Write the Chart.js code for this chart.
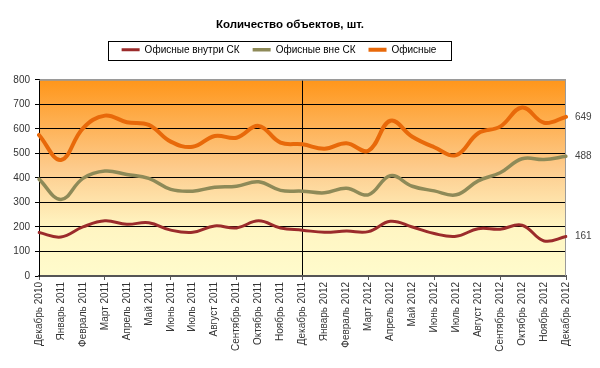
<!DOCTYPE html>
<html>
<head>
<meta charset="utf-8">
<script src="https://cdn.jsdelivr.net/npm/chart.js@4/dist/chart.umd.min.js"></script>
<style>
  body { margin: 0; background: #fff; }
  #wrap { width: 600px; height: 368px; }
</style>
</head>
<body>
<div id="wrap"><canvas id="objChart"></canvas></div>
<script>
// months, Dec 2010 .. Dec 2012
const months = ['Декабрь 2010', 'Январь 2011', 'Февраль 2011', 'Март 2011', 'Апрель 2011', 'Май 2011',
  'Июнь 2011', 'Июль 2011', 'Август 2011', 'Сентябрь 2011', 'Октябрь 2011', 'Ноябрь 2011',
  'Декабрь 2011', 'Январь 2012', 'Февраль 2012', 'Март 2012', 'Апрель 2012', 'Май 2012',
  'Июнь 2012', 'Июль 2012', 'Август 2012', 'Сентябрь 2012', 'Октябрь 2012', 'Ноябрь 2012', 'Декабрь 2012'];

const insideSK = [177, 159, 200, 225, 211, 217, 187, 178, 204, 196, 225, 196, 187,
  178, 183, 181, 223, 200, 173, 162, 193, 191, 207, 143, 161];
const outsideSK = [395, 312, 398, 428, 414, 398, 353, 346, 362, 366, 384, 349, 346,
  339, 358, 331, 409, 366, 347, 331, 388, 421, 478, 475, 488];
const offices = [575, 473, 602, 654, 627, 616, 548, 527, 571, 564, 612, 544, 537,
  519, 541, 511, 633, 568, 525, 493, 582, 609, 687, 625, 649];

const yTicks = [0, 100, 200, 300, 400, 500, 600, 700, 800];

// background gradient + frame
const areaBg = {
  id: 'areaBg',
  beforeDatasetsDraw(chart) {
    const { ctx, chartArea: a } = chart;
    const g = ctx.createLinearGradient(0, a.top, 0, a.bottom);
    g.addColorStop(0, '#FF961A');
    g.addColorStop(0.45, '#FDCB8C');
    g.addColorStop(0.75, '#FFF5C2');
    g.addColorStop(1, '#FFFBCC');
    ctx.save();
    ctx.globalCompositeOperation = 'destination-over';
    ctx.fillStyle = g;
    ctx.fillRect(a.left, a.top, a.right - a.left, a.bottom - a.top);
    ctx.restore();
    ctx.save();
    ctx.strokeStyle = '#9a9a9a';
    ctx.lineWidth = 1;
    ctx.beginPath();
    ctx.moveTo(a.left, a.top + 0.5);
    ctx.lineTo(a.right - 0.5, a.top + 0.5);
    ctx.lineTo(a.right - 0.5, a.bottom);
    ctx.stroke();
    ctx.restore();
  }
};

// legend a bit taller, title/legend nudged like in excel
const tweakLayout = {
  id: 'tweakLayout',
  beforeLayout(chart) {
    const lg = chart.legend;
    if (lg && !lg._patched) {
      const fit = lg.fit.bind(lg);
      lg.fit = function () { fit(); this.height += 15; };
      lg._patched = true;
    }
  },
  afterLayout(chart) {
    chart.titleBlock.left += 7;
    chart.titleBlock.right += 7;
    chart.legend.left -= 4;
    chart.legend.right -= 4;
  }
};

// last values at the right, legend frame
const extras = {
  id: 'extras',
  afterDraw(chart) {
    const { ctx, chartArea: a } = chart;
    ctx.save();
    ctx.font = '10px Arial';
    ctx.fillStyle = '#444';
    ctx.textBaseline = 'middle';
    chart.data.datasets.forEach((ds, i) => {
      const pts = chart.getDatasetMeta(i).data;
      const p = pts[pts.length - 1];
      ctx.fillText(String(ds.data[ds.data.length - 1]), a.right + 9, p.y);
    });
    const boxes = chart.legend.legendHitBoxes;
    if (boxes && boxes.length) {
      const l = Math.min(...boxes.map(b => b.left)) - 14;
      const r = Math.max(...boxes.map(b => b.left + b.width)) + 14;
      const t = boxes[0].top - 4;
      ctx.strokeStyle = '#000';
      ctx.lineWidth = 1;
      ctx.strokeRect(Math.round(l) + 0.5, Math.round(t) + 0.5, Math.round(r - l), 19);
    }
    ctx.restore();
  }
};

new Chart(document.getElementById('objChart'), {
  type: 'line',
  data: {
    labels: months,
    datasets: [
      { label: 'Офисные внутри СК', data: insideSK, borderColor: '#9B2B2B', borderWidth: 3 },
      { label: 'Офисные вне СК', data: outsideSK, borderColor: '#8E8A58', borderWidth: 3.5 },
      { label: 'Офисные', data: offices, borderColor: '#E8690A', borderWidth: 4 }
    ]
  },
  options: {
    responsive: true,
    maintainAspectRatio: false,
    animation: false,
    layout: { padding: { left: 0, right: 34, top: 0, bottom: 0 } },
    elements: {
      line: { tension: 0.4, fill: false, borderCapStyle: 'round' },
      point: { radius: 0 }
    },
    plugins: {
      title: {
        display: true,
        text: 'Количество объектов, шт.',
        color: '#000',
        font: { family: 'Arial', size: 11.5, weight: 'bold' },
        padding: { top: 18, bottom: 0 }
      },
      legend: {
        labels: {
          usePointStyle: true,
          pointStyle: 'line',
          pointStyleWidth: 18,
          color: '#000',
          font: { family: 'Arial', size: 10 },
          padding: 13
        }
      },
      tooltip: { enabled: false }
    },
    scales: {
      x: {
        grid: {
          color: c => c.index === 12 ? '#000' : 'rgba(0,0,0,0)',
          tickColor: c => c.index % 3 === 0 ? '#555' : 'rgba(0,0,0,0)',
          tickLength: 4,
          offset: false
        },
        border: { color: '#555', width: 2 },
        ticks: {
          minRotation: 90,
          maxRotation: 90,
          autoSkip: false,
          color: '#333',
          font: { family: 'Arial', size: 10 },
          padding: 2
        },
        afterFit: s => { s.height = 92; }
      },
      y: {
        min: 0,
        max: 800,
        afterBuildTicks: s => { s.ticks = yTicks.map(v => ({ value: v })); },
        grid: {
          color: c => c.tick.value === 800 ? '#9a9a9a' : '#000',
          tickColor: '#000',
          tickLength: 4
        },
        border: { color: '#000', width: 1 },
        ticks: {
          color: '#333',
          font: { family: 'Arial', size: 10 },
          padding: 5
        },
        afterFit: s => { s.width = 39; }
      }
    }
  },
  plugins: [areaBg, tweakLayout, extras]
});
</script>
</body>
</html>
